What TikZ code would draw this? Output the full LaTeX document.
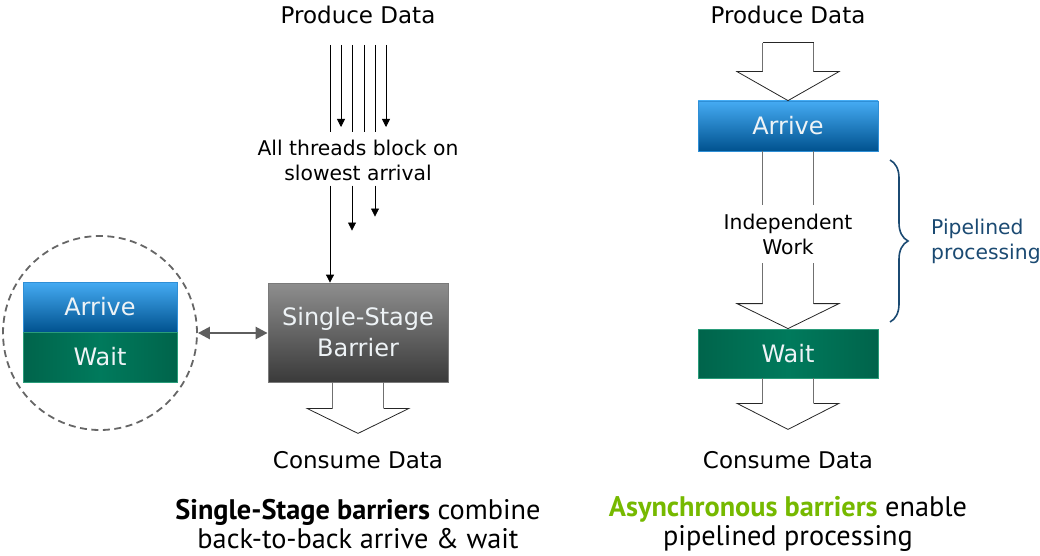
\documentclass[tikz,border=0pt]{standalone}
\usepackage{fontspec}
\setmainfont{DejaVu Sans}
\newfontfamily\capfont{PT Sans}
\usetikzlibrary{arrows.meta,decorations.pathreplacing}
\definecolor{arrtop}{HTML}{45ABF3}
\definecolor{arrbot}{HTML}{00528F}
\definecolor{arrline}{HTML}{2F8FD6}
\definecolor{waitmid}{HTML}{007A5C}
\definecolor{waitedge}{HTML}{00644B}
\definecolor{waitline}{HTML}{2A9C7A}
\definecolor{bartop}{HTML}{8E8E8E}
\definecolor{barbot}{HTML}{3A3A3A}
\definecolor{barline}{HTML}{7A7A7A}
\definecolor{boxtext}{HTML}{EEF3F6}
\definecolor{shaftgray}{HTML}{707070}
\definecolor{circgray}{HTML}{666666}
\definecolor{dblgray}{HTML}{5E5E5E}
\definecolor{bracecol}{HTML}{1B4A72}
\definecolor{nvgreen}{HTML}{76B900}
\begin{document}
\begin{tikzpicture}[x=1pt,y=-1pt,
  lbl/.style={font=\fontsize{23}{28}\selectfont, inner sep=0pt},
  small/.style={font=\fontsize{20.3}{25}\selectfont, align=center, inner sep=0pt},
  captxt/.style={font=\capfont\fontsize{28.3}{29}\selectfont, align=center, inner sep=0pt},
  boxtxt/.style={text=boxtext, font=\fontsize{24}{31}\selectfont, align=center, inner sep=0pt},
  arrbox/.style={boxtxt, draw=arrline, line width=0.8pt, top color=arrtop, bottom color=arrbot, minimum width=180pt, minimum height=50pt},
  waitbox/.style={boxtxt, draw=waitline, line width=0.8pt, left color=waitedge, right color=waitedge, middle color=waitmid, minimum width=180pt, minimum height=49pt},
  thread/.style={draw=black, line width=0.8pt},
  tip/.style={-{Triangle[width=8pt,length=8pt]}},
  shaft/.style={draw=shaftgray, line width=1.8pt},
  head/.style={draw=black!85, line width=0.8pt, line join=miter},
  dbl/.style={draw=dblgray, line width=2.5pt, {Triangle[width=12pt,length=12pt]}-{Triangle[width=12pt,length=12pt]}}
]
\useasboundingbox (0,0) rectangle (1040,556);

% ---------------- left side ----------------
\node[lbl] (prodL) at (358,15) {Produce Data};
\node[small] (thrL) at (358,160) {All threads block on\\slowest arrival};
\node[boxtxt, draw=barline, line width=0.8pt, top color=bartop, bottom color=barbot,
      minimum width=180pt, minimum height=99pt] (bar) at (358,332.5) {Single-Stage\\Barrier};
\node[lbl] (consL) at (358,460) {Consume Data};

\foreach \i/\x in {1/330,2/341,3/352,4/364,5/375,6/386}{
  \coordinate (t\i) at (\x,45);
}
\draw[thread] (t1) -- ++(0,87);
\draw[thread,tip] (t2) -- ++(0,82);
\draw[thread] (t3) -- ++(0,87);
\draw[thread] (t4) -- ++(0,87);
\draw[thread] (t5) -- ++(0,87);
\draw[thread,tip] (t6) -- ++(0,82);
\draw[thread,tip] (thrL.south -| t1) ++(0,5) -- (bar.north -| t1);
\draw[thread,tip] (thrL.south -| t3) ++(0,5) -- ++(0,45);
\draw[thread,tip] (thrL.south -| t5) ++(0,5) -- ++(0,31);

% hollow arrow below barrier
\draw[shaft] ([xshift=-25.5pt]bar.south) -- ++(0,26);
\draw[shaft] ([xshift=25.5pt]bar.south) -- ++(0,26);
\draw[head] ([xshift=-25.5pt,yshift=-26pt]bar.south) -- ++(-25.5,0) -- ++(51,25) -- ++(51,-25) -- ++(-25.5,0);

% circle with arrive / wait
\node[draw=circgray, dash pattern=on 7pt off 4.5pt, line width=1.8pt, circle, minimum size=194pt] (circ) at (100,333) {};
\node[arrbox, minimum width=154pt] (arrL) at (100,307) {Arrive};
\node[waitbox, minimum width=154pt, minimum height=50pt] (waitL) at (100,357) {Wait};
\draw[dbl] (circ.east) -- (circ.east -| bar.west);

% ---------------- right side ----------------
\node[lbl] (prodR) at (788,15) {Produce Data};
\node[arrbox] (arrR) at (788,126) {Arrive};
\node[small] (indep) at (788,234) {Independent\\Work};
\node[waitbox] (waitR) at (788,353.5) {Wait};
\node[lbl] (consR) at (788,460) {Consume Data};

% arrow into Arrive
\draw[shaft] ([xshift=-25.5pt,yshift=29pt]arrR.north) -- ++(0,-29);
\draw[shaft] ([xshift=25.5pt,yshift=29pt]arrR.north) -- ++(0,-29);
\draw[head] ([xshift=-25.5pt,yshift=58pt]arrR.north) -- ++(51,0);
\draw[head] ([xshift=-25.5pt,yshift=29pt]arrR.north) -- ++(-25.5,0) -- (arrR.north) -- ++(51,-29) -- ++(-25.5,0);

% independent work arrow
\draw[shaft] ([xshift=-25.5pt]arrR.south) -- ++(0,54);
\draw[shaft] ([xshift=25.5pt]arrR.south) -- ++(0,54);
\draw[shaft] ([xshift=-25.5pt,yshift=25pt]waitR.north) -- ++(0,-41);
\draw[shaft] ([xshift=25.5pt,yshift=25pt]waitR.north) -- ++(0,-41);
\draw[head] ([xshift=-25.5pt,yshift=25pt]waitR.north) -- ++(-25.5,0) -- (waitR.north) -- ++(51,-25) -- ++(-25.5,0);

% arrow below Wait
\draw[shaft] ([xshift=-25.5pt]waitR.south) -- ++(0,25);
\draw[shaft] ([xshift=25.5pt]waitR.south) -- ++(0,25);
\draw[head] ([xshift=-25.5pt,yshift=-25pt]waitR.south) -- ++(-25.5,0) -- ++(51,26) -- ++(51,-26) -- ++(-25.5,0);

% brace
\coordinate (brT) at (890,160);
\coordinate (brB) at (890,322);
\draw[draw=bracecol, line width=1.6pt, decorate, decoration={brace, amplitude=18pt}] (brT) -- (brB);
\node[small, text=bracecol, align=left, anchor=west] (pip) at (931,241) {Pipelined\\processing};

% captions
\node[captxt] (capL) at (358,524) {\textbf{Single-Stage barriers} combine\\back-to-back arrive \& wait};
\node[captxt] (capR) at (788,524) {{\color{nvgreen}\textbf{Asynchronous barriers}} enable\\pipelined processing};
\end{tikzpicture}
\end{document}
